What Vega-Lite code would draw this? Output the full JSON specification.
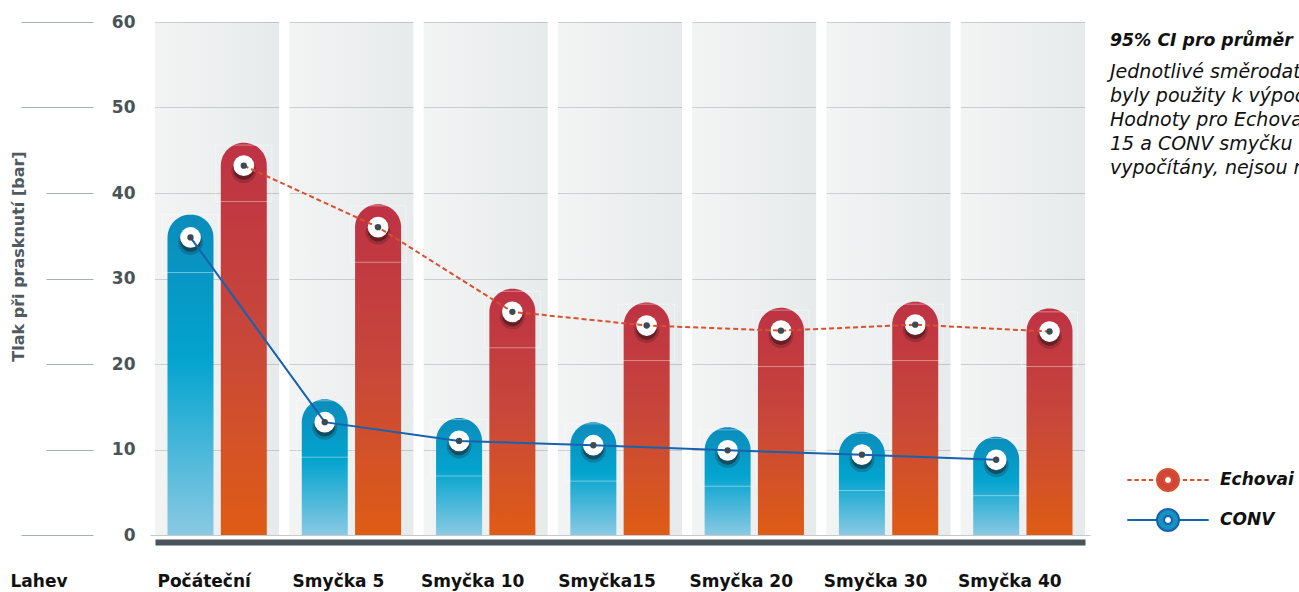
{
  "$schema": "https://vega.github.io/schema/vega-lite/v6.json",
  "autosize": {"type": "none"},
  "width": 940,
  "height": 513,
  "padding": {"left": 150, "top": 22, "right": 209, "bottom": 57},
  "background": "white",
  "config": {"font": "DejaVu Sans", "view": {"stroke": null}},
  "title": {
    "text": "95% CI pro průměr",
    "subtitle": ["Jednotlivé směrodatné", "byly použity k výpočtu", "Hodnoty pro Echovai", "15 a CONV smyčku", "vypočítány, nejsou měřeny"],
    "orient": "top",
    "anchor": "start",
    "frame": "group",
    "align": "left",
    "dx": 960,
    "dy": 169,
    "font": "DejaVu Sans",
    "fontSize": 17.3,
    "fontWeight": "bold",
    "fontStyle": "italic",
    "color": "#111111",
    "subtitleFont": "DejaVu Sans",
    "subtitleFontSize": 19,
    "subtitleFontStyle": "italic",
    "subtitleColor": "#111111",
    "subtitleLineHeight": 24,
    "subtitlePadding": 14
  },
  "data": {
    "values": [
      {"cat": "Počáteční", "series": "CONV", "loop": 0, "value": 34.8, "ci_lo": 30.7, "ci_hi": 37.5},
      {"cat": "Počáteční", "series": "Echovai", "loop": 0, "value": 43.2, "ci_lo": 39.0, "ci_hi": 45.6},
      {"cat": "Smyčka 5", "series": "CONV", "loop": 5, "value": 13.2, "ci_lo": 9.1, "ci_hi": 15.7},
      {"cat": "Smyčka 5", "series": "Echovai", "loop": 5, "value": 36.0, "ci_lo": 31.9, "ci_hi": 38.5},
      {"cat": "Smyčka 10", "series": "CONV", "loop": 10, "value": 11.0, "ci_lo": 6.9, "ci_hi": 13.5},
      {"cat": "Smyčka 10", "series": "Echovai", "loop": 10, "value": 26.1, "ci_lo": 21.9, "ci_hi": 28.5},
      {"cat": "Smyčka15", "series": "CONV", "loop": 15, "value": 10.5, "ci_lo": 6.3, "ci_hi": 13.0},
      {"cat": "Smyčka15", "series": "Echovai", "loop": 15, "value": 24.5, "ci_lo": 20.4, "ci_hi": 27.0},
      {"cat": "Smyčka 20", "series": "CONV", "loop": 20, "value": 9.9, "ci_lo": 5.7, "ci_hi": 12.3},
      {"cat": "Smyčka 20", "series": "Echovai", "loop": 20, "value": 23.9, "ci_lo": 19.7, "ci_hi": 26.3},
      {"cat": "Smyčka 30", "series": "CONV", "loop": 30, "value": 9.4, "ci_lo": 5.2, "ci_hi": 11.9},
      {"cat": "Smyčka 30", "series": "Echovai", "loop": 30, "value": 24.6, "ci_lo": 20.4, "ci_hi": 27.0},
      {"cat": "Smyčka 40", "series": "CONV", "loop": 40, "value": 8.8, "ci_lo": 4.6, "ci_hi": 11.3},
      {"cat": "Smyčka 40", "series": "Echovai", "loop": 40, "value": 23.8, "ci_lo": 19.7, "ci_hi": 26.1}
    ]
  },
  "resolve": {"axis": {"y": "independent"}},
  "layer": [
    {
      "transform": [{"filter": "datum.series === 'CONV'"}],
      "mark": {
        "type": "bar",
        "fill": {"gradient": "linear", "x1": 0, "y1": 0, "x2": 1, "y2": 0, "stops": [{"offset": 0, "color": "#d8dcdc"}, {"offset": 1, "color": "#aebabe"}]},
        "fillOpacity": 0.3,
        "stroke": "white",
        "strokeWidth": 10,
        "strokeDash": [0, 134.2857, 513, 134.2857, 513, 0]
      },
      "encoding": {
        "x": {
          "field": "cat", "type": "nominal",
          "scale": {"domain": ["Počáteční", "Smyčka 5", "Smyčka 10", "Smyčka15", "Smyčka 20", "Smyčka 30", "Smyčka 40"], "paddingInner": 0, "paddingOuter": 0},
          "axis": {
            "title": "Lahev", "orient": "bottom", "offset": 7,
            "domainColor": "#48535a", "domainWidth": 6, "domainCap": "butt", "domainDash": [0, 5, 930, 5],
            "ticks": false, "tickSize": 0, "grid": false,
            "labelAngle": 0, "labelOffset": -13, "labelPadding": 39, "labelBaseline": "middle",
            "labelFont": "DejaVu Sans", "labelFontSize": 17, "labelFontWeight": "bold", "labelColor": "#111111",
            "titleFont": "DejaVu Sans", "titleFontSize": 17, "titleFontWeight": "bold", "titleColor": "#111111",
            "titleX": -140, "titleY": 39, "titleAlign": "left", "titleBaseline": "middle", "titleAnchor": "start"
          }
        },
        "y": {
          "datum": 60, "type": "quantitative",
          "scale": {"domain": [0, 60], "nice": false},
          "axis": {
            "orient": "left", "offset": 57, "title": null, "labels": false, "domain": false, "grid": false,
            "values": [0, 10, 20, 30, 40, 50, 60],
            "ticks": true, "tickColor": "#a6afb3", "tickWidth": 1,
            "tickSize": {"condition": {"test": "datum.value === 0 || datum.value >= 50", "value": 72}, "value": 47}
          }
        },
        "y2": {"datum": 0}
      }
    },
    {
      "mark": {"type": "bar", "cornerRadiusTopLeft": 23, "cornerRadiusTopRight": 23, "yOffset": -23, "y2Offset": 0},
      "encoding": {
        "x": {"field": "cat", "type": "nominal"},
        "xOffset": {"field": "series", "type": "nominal", "scale": {"domain": ["CONV", "Echovai"], "paddingInner": 0.137, "paddingOuter": 0.328}},
        "y": {
          "field": "value", "type": "quantitative",
          "axis": {
            "orient": "left", "title": "Tlak při prasknutí [bar]", "values": [0, 10, 20, 30, 40, 50, 60],
            "grid": true, "gridColor": "#c6cacc", "gridWidth": 1, "domain": false, "ticks": false, "tickSize": 0,
            "labelPadding": 15, "labelFont": "DejaVu Sans", "labelFontSize": 17, "labelFontWeight": "bold", "labelColor": "#4a5358",
            "titleFont": "DejaVu Sans", "titleFontSize": 16, "titleFontWeight": "bold", "titleColor": "#505a5f",
            "titleX": -132, "titleY": 234, "titleBaseline": "middle", "titleAlign": "center", "titleAngle": 270
          }
        },
        "y2": {"datum": 0},
        "color": {
          "condition": {"test": "datum.series === 'CONV'", "value": {"gradient": "linear", "x1": 0, "y1": 0, "x2": 0, "y2": 1, "stops": [{"offset": 0, "color": "#0b8cbb"}, {"offset": 0.45, "color": "#03a4cf"}, {"offset": 1, "color": "#8ac9e3"}]}},
          "value": {"gradient": "linear", "x1": 0, "y1": 0, "x2": 0, "y2": 1, "stops": [{"offset": 0, "color": "#be3244"}, {"offset": 0.5, "color": "#c8473a"}, {"offset": 1, "color": "#df5c15"}]}
        }
      }
    },
    {
      "mark": {"type": "bar", "width": 56, "xOffset": 7.5, "fill": null, "stroke": "white", "strokeOpacity": 0.4, "strokeWidth": 1},
      "encoding": {
        "x": {"field": "cat", "type": "nominal"},
        "xOffset": {"field": "series", "type": "nominal"},
        "y": {"field": "ci_hi", "type": "quantitative", "axis": null},
        "y2": {"field": "ci_lo"}
      }
    },
    {
      "mark": {"type": "point", "filled": true, "color": "#1a0808", "size": 620, "opacity": 0.2, "xOffset": 5, "yOffset": 5},
      "encoding": {
        "x": {"field": "cat", "type": "nominal"},
        "xOffset": {"field": "series", "type": "nominal"},
        "y": {"field": "value", "type": "quantitative", "axis": null}
      }
    },
    {
      "mark": {"type": "point", "filled": true, "color": "#1a0808", "size": 430, "opacity": 0.4, "xOffset": 4, "yOffset": 4},
      "encoding": {
        "x": {"field": "cat", "type": "nominal"},
        "xOffset": {"field": "series", "type": "nominal"},
        "y": {"field": "value", "type": "quantitative", "axis": null}
      }
    },
    {
      "mark": {"type": "point", "filled": true, "color": "white", "size": 430, "opacity": 1},
      "encoding": {
        "x": {"field": "cat", "type": "nominal"},
        "xOffset": {"field": "series", "type": "nominal"},
        "y": {"field": "value", "type": "quantitative", "axis": null}
      }
    },
    {
      "transform": [{"filter": "datum.series === 'CONV'"}],
      "mark": {"type": "line", "strokeWidth": 2, "color": "#1762ae"},
      "encoding": {
        "x": {"field": "cat", "type": "nominal"},
        "xOffset": {"field": "series", "type": "nominal"},
        "y": {"field": "value", "type": "quantitative", "axis": null},
        "order": {"field": "loop", "type": "quantitative"}
      }
    },
    {
      "transform": [{"filter": "datum.series === 'Echovai'"}],
      "mark": {"type": "line", "strokeWidth": 2, "color": "#d8502e", "strokeDash": [5, 3]},
      "encoding": {
        "x": {"field": "cat", "type": "nominal"},
        "xOffset": {"field": "series", "type": "nominal"},
        "y": {"field": "value", "type": "quantitative", "axis": null},
        "order": {"field": "loop", "type": "quantitative"}
      }
    },
    {
      "mark": {"type": "point", "filled": true, "color": "#3d4a52", "size": 40, "opacity": 1},
      "encoding": {
        "x": {"field": "cat", "type": "nominal"},
        "xOffset": {"field": "series", "type": "nominal"},
        "y": {"field": "value", "type": "quantitative", "axis": null}
      }
    },
    {
      "mark": {"type": "point", "filled": true, "opacity": 0},
      "encoding": {
        "x": {"field": "cat", "type": "nominal"},
        "xOffset": {"field": "series", "type": "nominal"},
        "y": {"field": "value", "type": "quantitative", "axis": null},
        "color": {
          "field": "series", "type": "nominal",
          "scale": {"domain": ["Echovai", "CONV"], "range": ["#d0443a", "#1592c0"]},
          "legend": {
            "title": null, "orient": "none", "legendX": 1006, "legendY": 446, "padding": 0,
            "symbolSize": 484, "rowPadding": 10, "labelOffset": 40, "symbolOpacity": 1, "symbolStrokeWidth": 2,
            "labelFont": "DejaVu Sans", "labelFontSize": 17, "labelFontWeight": "bold", "labelFontStyle": "italic", "labelColor": "#111111"
          }
        },
        "stroke": {
          "field": "series", "type": "nominal",
          "scale": {"domain": ["Echovai", "CONV"], "range": ["#d8502e", "#1762ae"]},
          "legend": {
            "title": null, "orient": "none", "legendX": 1006, "legendY": 446, "padding": 0,
            "symbolSize": 484, "rowPadding": 10, "labelOffset": 40, "symbolOpacity": 1, "symbolStrokeWidth": 2,
            "labelFont": "DejaVu Sans", "labelFontSize": 17, "labelFontWeight": "bold", "labelFontStyle": "italic", "labelColor": "#111111"
          }
        },
        "shape": {
          "field": "series", "type": "nominal",
          "scale": {"domain": ["Echovai", "CONV"], "range": [
            "M-3.7,0L-3.3,0M-3.05,0L-2.65,0M-2.4,0L-2,0M-1.75,0L-1.35,0M1.35,0L1.75,0M2,0L2.4,0M2.65,0L3.05,0M3.3,0L3.7,0M-1,0A1,1,0,1,0,1,0A1,1,0,1,0,-1,0ZM-0.36,0A0.36,0.36,0,1,1,0.36,0A0.36,0.36,0,1,1,-0.36,0Z",
            "M-3.7,0L-1,0M1,0L3.7,0M-1,0A1,1,0,1,0,1,0A1,1,0,1,0,-1,0ZM-0.36,0A0.36,0.36,0,1,1,0.36,0A0.36,0.36,0,1,1,-0.36,0Z"
          ]},
          "legend": {
            "title": null, "orient": "none", "legendX": 1006, "legendY": 446, "padding": 0,
            "symbolSize": 484, "rowPadding": 10, "labelOffset": 40, "symbolOpacity": 1, "symbolStrokeWidth": 2,
            "labelFont": "DejaVu Sans", "labelFontSize": 17, "labelFontWeight": "bold", "labelFontStyle": "italic", "labelColor": "#111111"
          }
        }
      }
    }
  ]
}
